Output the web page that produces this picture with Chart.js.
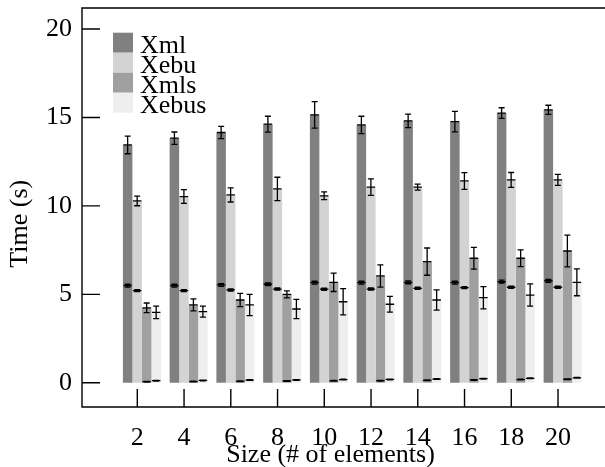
<!DOCTYPE html>
<html>
<head>
<meta charset="utf-8">
<script src="https://cdn.jsdelivr.net/npm/chart.js@4.4.1/dist/chart.umd.min.js"></script>
<style>
  body { margin: 0; background: #fff; }
  #wrap { width: 605px; height: 467px; }
</style>
</head>
<body>
<div id="wrap"><canvas id="timeChart" width="605" height="467"></canvas></div>
<script>
// sizes on the x axis
const sizes = [2, 4, 6, 8, 10, 12, 14, 16, 18, 20];
const yTicks = [0, 5, 10, 15, 20];

// total times (s) and their error
const xml = [13.45, 13.83, 14.15, 14.62, 15.15, 14.58, 14.81, 14.77, 15.25, 15.43];
const xmlErr = [0.5, 0.35, 0.35, 0.45, 0.75, 0.49, 0.38, 0.58, 0.3, 0.26];
const xebu = [10.28, 10.53, 10.62, 10.96, 10.57, 11.06, 11.06, 11.41, 11.47, 11.47];
const xebuErr = [0.27, 0.39, 0.4, 0.66, 0.22, 0.47, 0.17, 0.47, 0.42, 0.31];
const xmls = [4.24, 4.4, 4.68, 5.0, 5.68, 6.04, 6.85, 7.04, 7.04, 7.45];
const xmlsErr = [0.27, 0.34, 0.38, 0.2, 0.52, 0.63, 0.77, 0.61, 0.47, 0.9];
const xebus = [3.98, 4.02, 4.4, 4.17, 4.58, 4.44, 4.68, 4.81, 4.96, 5.68];
const xebusErr = [0.35, 0.31, 0.6, 0.54, 0.74, 0.44, 0.57, 0.63, 0.63, 0.76];

// inner component markers (s) and their error
const xmlInner = [5.49, 5.49, 5.53, 5.57, 5.66, 5.66, 5.68, 5.66, 5.72, 5.76];
const xmlInnerErr = [0.08, 0.08, 0.08, 0.08, 0.08, 0.08, 0.08, 0.08, 0.08, 0.08];
const xebuInner = [5.21, 5.21, 5.25, 5.3, 5.29, 5.3, 5.34, 5.38, 5.4, 5.4];
const xebuInnerErr = [0.06, 0.06, 0.06, 0.06, 0.06, 0.06, 0.06, 0.06, 0.06, 0.06];
const xmlsInner = [0.06, 0.07, 0.08, 0.1, 0.11, 0.12, 0.14, 0.16, 0.18, 0.2];
const xmlsInnerErr = [0.02, 0.02, 0.02, 0.02, 0.02, 0.02, 0.02, 0.02, 0.02, 0.02];
const xebusInner = [0.12, 0.13, 0.15, 0.16, 0.18, 0.19, 0.21, 0.23, 0.25, 0.28];
const xebusInnerErr = [0.02, 0.02, 0.02, 0.02, 0.02, 0.02, 0.02, 0.02, 0.02, 0.02];

const FONT = "'Liberation Serif', 'Times New Roman', serif";
Chart.defaults.font.family = FONT;
Chart.defaults.font.size = 26;
Chart.defaults.color = "#000";

function makeSet(label, values, err, inner, innerErr, color) {
  return {
    label: label,
    data: sizes.map((s, i) => ({ x: s, y: values[i] })),
    err: err,
    inner: inner,
    innerErr: innerErr,
    backgroundColor: color,
    borderWidth: 0,
    xAxisID: "xb",
    yAxisID: "y",
  };
}

// error bars: mean line across the bar, vertical whisker, small caps
const errorBarPlugin = {
  id: "errorBars",
  afterDatasetsDraw(chart) {
    const ctx = chart.ctx;
    const y = chart.scales.y;
    ctx.save();
    ctx.strokeStyle = "#000";
    ctx.lineWidth = 1.3;
    chart.data.datasets.forEach((ds, di) => {
      const meta = chart.getDatasetMeta(di);
      meta.data.forEach((bar, i) => {
        const pairs = [
          [ds.data[i].y, ds.err[i]],
          [ds.inner[i], ds.innerErr[i]],
        ];
        pairs.forEach(([v, e]) => {
          const x = bar.x;
          const half = bar.width / 2;
          const yv = y.getPixelForValue(v);
          const yh = y.getPixelForValue(v + e);
          const yl = y.getPixelForValue(v - e);
          ctx.beginPath();
          ctx.moveTo(x - half + 0.5, yv);
          ctx.lineTo(x + half - 0.5, yv);
          ctx.moveTo(x, yh);
          ctx.lineTo(x, yl);
          ctx.moveTo(x - 3, yh);
          ctx.lineTo(x + 3, yh);
          ctx.moveTo(x - 3, yl);
          ctx.lineTo(x + 3, yl);
          ctx.stroke();
        });
      });
    });
    ctx.restore();
  },
};

// open frame with inward ticks, plus the legend inside the plot
const framePlugin = {
  id: "frame",
  afterDraw(chart) {
    const ctx = chart.ctx;
    const a = chart.chartArea;
    const xs = chart.scales.x;
    const ys = chart.scales.y;
    ctx.save();
    ctx.strokeStyle = "#000";
    ctx.lineWidth = 1.4;
    ctx.beginPath();
    ctx.moveTo(chart.width, a.top);
    ctx.lineTo(a.left, a.top);
    ctx.lineTo(a.left, a.bottom);
    ctx.lineTo(chart.width, a.bottom);
    yTicks.forEach((t) => {
      const py = ys.getPixelForValue(t);
      ctx.moveTo(a.left, py);
      ctx.lineTo(a.left + 18, py);
    });
    sizes.forEach((s) => {
      const px = xs.getPixelForValue(s);
      ctx.moveTo(px, a.bottom);
      ctx.lineTo(px, a.bottom - 18);
    });
    ctx.stroke();

    // legend
    ctx.font = "26px " + FONT;
    ctx.textBaseline = "alphabetic";
    ctx.textAlign = "left";
    chart.data.datasets.forEach((ds, i) => {
      const bx = a.left + 31;
      const by = a.top + 24.7 + i * 20;
      ctx.fillStyle = ds.backgroundColor;
      ctx.fillRect(bx, by, 20, 20);
      ctx.fillStyle = "#000";
      ctx.fillText(ds.label, bx + 27, by + 20);
    });
    ctx.restore();
  },
};

const shift = 0.197; // group centres sit a little right of the ticks
const xMin = -0.366;
const xMax = 22.01;

new Chart(document.getElementById("timeChart"), {
  type: "bar",
  data: {
    datasets: [
      makeSet("Xml", xml, xmlErr, xmlInner, xmlInnerErr, "#808080"),
      makeSet("Xebu", xebu, xebuErr, xebuInner, xebuInnerErr, "#d3d3d3"),
      makeSet("Xmls", xmls, xmlsErr, xmlsInner, xmlsInnerErr, "#a0a0a0"),
      makeSet("Xebus", xebus, xebusErr, xebusInner, xebusInnerErr, "#eeeeee"),
    ],
  },
  options: {
    responsive: false,
    animation: false,
    layout: { autoPadding: false, padding: { top: 8, right: 0, bottom: 0, left: 0 } },
    datasets: { bar: { categoryPercentage: 0.813, barPercentage: 1.0 } },
    plugins: {
      legend: { display: false },
      tooltip: { enabled: false },
    },
    scales: {
      xb: {
        type: "linear",
        display: false,
        offset: false,
        min: xMin - shift,
        max: xMax - shift,
      },
      x: {
        type: "linear",
        position: "bottom",
        offset: false,
        min: xMin,
        max: xMax,
        afterBuildTicks: (s) => { s.ticks = sizes.map((v) => ({ value: v })); },
        afterFit: (s) => {
          s.height = 60;
          s.paddingLeft = 0;
          s.paddingRight = 0;
        },
        grid: { display: false, drawTicks: false },
        border: { display: false },
        ticks: { padding: 16, maxRotation: 0, autoSkip: false },
        title: {
          display: true,
          // trailing spaces nudge the centred title left, as in the original
          text: "Size (# of elements)    ",
          padding: { top: 0, bottom: -4 },
        },
      },
      y: {
        type: "linear",
        min: -1.37,
        max: 21.19,
        afterBuildTicks: (s) => { s.ticks = yTicks.map((v) => ({ value: v })); },
        afterFit: (s) => {
          s.width = 82;
          s.paddingTop = 0;
          s.paddingBottom = 0;
        },
        grid: { display: false, drawTicks: false },
        border: { display: false },
        ticks: { padding: 10 },
        title: {
          display: true,
          text: "Time (s)     ",
          padding: { top: 5, bottom: 0 },
        },
      },
    },
  },
  plugins: [errorBarPlugin, framePlugin],
});
</script>
</body>
</html>
